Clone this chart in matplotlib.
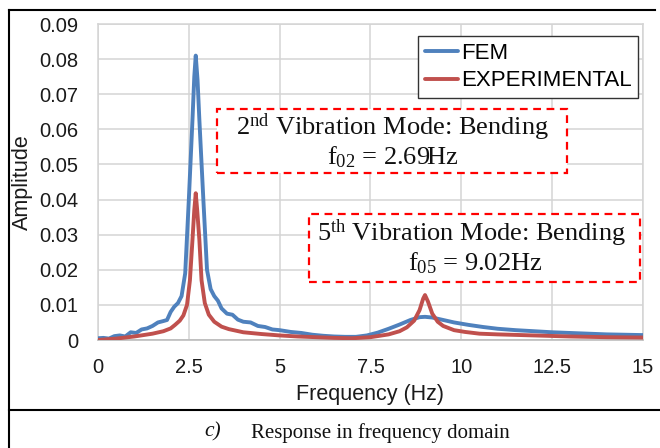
import matplotlib
matplotlib.use("Agg")
import matplotlib.pyplot as plt
from matplotlib.patches import Rectangle
from matplotlib.lines import Line2D
from matplotlib.ticker import FuncFormatter

plt.rcParams['font.family'] = ['Liberation Sans', 'DejaVu Sans']
plt.rcParams['mathtext.fontset'] = 'custom'
plt.rcParams['mathtext.rm'] = 'Liberation Serif'
plt.rcParams['mathtext.it'] = 'Liberation Serif:italic'

# ---- data ----
fem_freq = [0.00, 0.15, 0.30, 0.45, 0.60, 0.75, 0.90, 1.05, 1.20, 1.35, 1.50, 1.65,
            1.80, 1.90, 2.00, 2.10, 2.20, 2.30, 2.40, 2.50, 2.60, 2.65, 2.69, 2.74,
            2.79, 2.90, 3.00, 3.10, 3.20, 3.30, 3.40, 3.55, 3.70, 3.85, 4.00, 4.20,
            4.40, 4.60, 4.80, 5.00, 5.30, 5.60, 5.90, 6.20, 6.50, 6.80, 7.10, 7.40,
            7.70, 8.00, 8.30, 8.60, 8.85, 9.00, 9.20, 9.50, 9.80, 10.20, 10.60, 11.00,
            11.50, 12.00, 12.50, 13.00, 13.50, 14.00, 14.50, 15.00]
fem_amp = [0.0005, 0.0006, 0.0004, 0.0011, 0.0013, 0.0010, 0.0022, 0.0020, 0.0030, 0.0033,
           0.0040, 0.0050, 0.0054, 0.0057, 0.0080, 0.0095, 0.0105, 0.0125, 0.0190, 0.0400,
           0.0627, 0.0750, 0.0810, 0.0740, 0.0627, 0.0399, 0.0200, 0.0145, 0.0125, 0.0112,
           0.0090, 0.0075, 0.0072, 0.0058, 0.0052, 0.0050, 0.0040, 0.0037, 0.0030, 0.0028,
           0.0023, 0.0020, 0.0015, 0.0012, 0.0010, 0.0009, 0.0009, 0.0013, 0.0021, 0.0032,
           0.0044, 0.0057, 0.0065, 0.0066, 0.0064, 0.0057, 0.0050, 0.0043, 0.0037, 0.0032,
           0.0028, 0.0025, 0.0022, 0.0020, 0.0018, 0.0016, 0.0015, 0.0014]

exp_freq = [0.00, 0.50, 1.00, 1.50, 1.80, 2.00, 2.12, 2.25, 2.35, 2.45, 2.53, 2.60,
            2.65, 2.69, 2.73, 2.79, 2.85, 2.94, 3.05, 3.20, 3.40, 3.60, 4.00, 4.50,
            5.00, 5.50, 6.00, 6.50, 7.00, 7.50, 8.00, 8.30, 8.50, 8.70, 8.85, 8.95,
            9.00, 9.08, 9.20, 9.35, 9.50, 9.80, 10.10, 10.50, 11.00, 12.00, 13.00,
            14.00, 15.00]
exp_amp = [0.0000, 0.0004, 0.0010, 0.0018, 0.0025, 0.0033, 0.0043, 0.0055, 0.0070, 0.0100,
           0.0170, 0.0285, 0.0370, 0.0418, 0.0370, 0.0285, 0.0170, 0.0105, 0.0072, 0.0052,
           0.0038, 0.0031, 0.0022, 0.0017, 0.0013, 0.0010, 0.0008, 0.0006, 0.0005, 0.0008,
           0.0016, 0.0025, 0.0036, 0.0055, 0.0085, 0.0118, 0.0128, 0.0110, 0.0075, 0.0052,
           0.0040, 0.0028, 0.0023, 0.0018, 0.0016, 0.0013, 0.0010, 0.0008, 0.0007]

x_ticks = [0, 2.5, 5, 7.5, 10, 12.5, 15]
y_ticks = [0, 0.01, 0.02, 0.03, 0.04, 0.05, 0.06, 0.07, 0.08, 0.09]
series_names = ['FEM', 'EXPERIMENTAL']
series_colors = ['#4F81BD', '#C0504D']

W, H = 660, 448
fig = plt.figure(figsize=(W / 100, H / 100), dpi=100)


def fx(px):
    return px / W


def fy(py):
    return 1 - py / H


ax = fig.add_axes([fx(98), fy(340), fx(643) - fx(98), fy(24) - fy(340)])
ax.plot(fem_freq, fem_amp, color=series_colors[0], lw=2.8, solid_joinstyle='round',
        solid_capstyle='round', label=series_names[0], zorder=3)
ax.plot(exp_freq, exp_amp, color=series_colors[1], lw=2.8, solid_joinstyle='round',
        solid_capstyle='round', label=series_names[1], zorder=4)
ax.set_xlim(0, 15)
ax.set_ylim(0, 0.09)
ax.set_xticks(x_ticks)
ax.set_yticks(y_ticks)
ax.xaxis.set_major_formatter(FuncFormatter(lambda v, p: ('%g' % v)))
ax.yaxis.set_major_formatter(FuncFormatter(lambda v, p: '0' if abs(v) < 1e-12 else '%.2f' % v))
ax.tick_params(length=0, labelsize=14.5, colors='#1a1a1a')
ax.tick_params(axis='y', pad=14)
ax.tick_params(axis='x', pad=13)
ax.grid(True, color='#d4d4d4', lw=1.1)
ax.set_axisbelow(True)
for s in ax.spines.values():
    s.set_color('#d4d4d4')
    s.set_linewidth(1.1)
ax.spines['bottom'].set_color('#b8b8b8')

leg = ax.legend(loc='upper right', bbox_to_anchor=(fx(638), fy(36)),
                bbox_transform=fig.transFigure, borderaxespad=0, fontsize=16,
                frameon=True, fancybox=False, edgecolor='#333333', framealpha=1,
                handlelength=1.5, handletextpad=0.1, labelspacing=0.3,
                borderpad=0.3)
leg.get_frame().set_linewidth(1.0)
for ln in leg.get_lines():
    ln.set_linewidth(2.8)

fig.text(fx(370), fy(394), 'Frequency (Hz)', ha='center', va='center', fontsize=15.5,
         color='#1a1a1a')
fig.text(fx(22), fy(182), 'Amplitude', ha='center', va='center', rotation=90,
         fontsize=15.5, color='#1a1a1a')

# annotation boxes
for (x0, y0, x1, y1) in [(217, 109, 567, 173), (309, 214, 640, 282)]:
    fig.patches.append(Rectangle((fx(x0), fy(y1)), fx(x1) - fx(x0), fy(y0) - fy(y1),
                                 transform=fig.transFigure, facecolor='white',
                                 edgecolor='#FF0000', lw=1.6, linestyle=(0, (3.5, 2.5)),
                                 zorder=5))

serif = dict(family=['Liberation Serif', 'DejaVu Serif'], fontsize=19, color='#111111',
             ha='center', va='center', zorder=6)
fig.text(fx(392), fy(127), r'2$^{\mathrm{nd}}$ Vibration Mode: Bending', **serif)
fig.text(fx(393), fy(157), r'f$_{\mathrm{02}}$ = 2.69Hz', **serif)
fig.text(fx(471), fy(233), r'5$^{\mathrm{th}}$ Vibration Mode: Bending', **serif)
fig.text(fx(475), fy(263), r'f$_{\mathrm{05}}$ = 9.02Hz', **serif)

# frame lines (table layout)
frame_kw = dict(transform=fig.transFigure, color='black', lw=1.5)
fig.lines.append(Line2D([fx(8.5), fx(655)], [fy(10.5), fy(10.5)], **frame_kw))
fig.lines.append(Line2D([fx(8.5), fx(8.5)], [fy(10.5), fy(448)], **frame_kw))
fig.lines.append(Line2D([fx(8.5), fx(660)], [fy(409.5), fy(409.5)], **frame_kw))

fig.text(fx(213), fy(432), 'c)', family=['Liberation Serif'], style='italic',
         fontsize=15.5, ha='center', va='center', color='#111111')
fig.text(fx(251), fy(433), 'Response in frequency domain', family=['Liberation Serif'],
         fontsize=15, ha='left', va='center', color='#111111')

fig.savefig('out.png', dpi=100)
